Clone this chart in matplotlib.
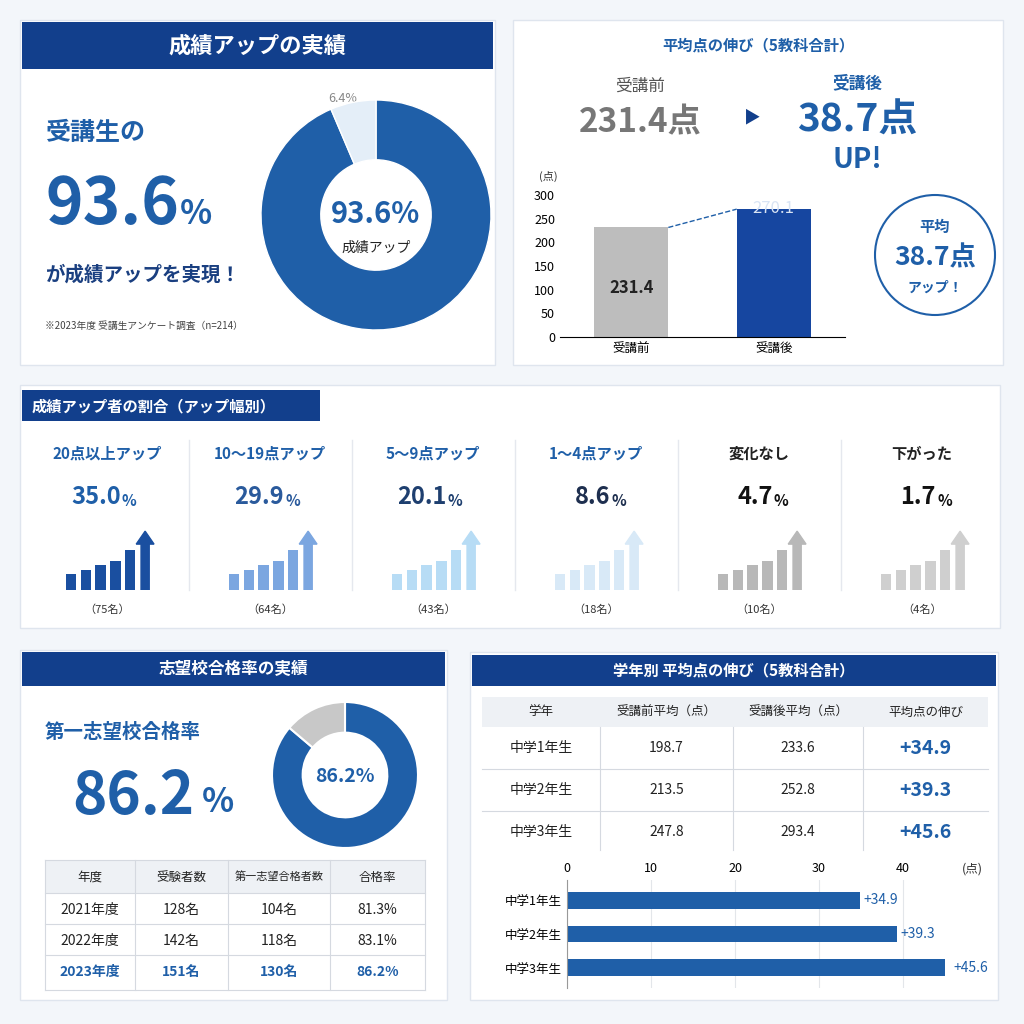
import matplotlib
matplotlib.use("Agg")
import matplotlib.pyplot as plt
from matplotlib.patches import Rectangle, Circle, FancyArrow
import numpy as np

plt.rcParams['font.family'] = ['Noto Sans CJK JP', 'DejaVu Sans']

# ---- data ----
up_share = [93.6, 6.4]
before_after_labels = ["受講前", "受講後"]
before_after_values = [231.4, 270.1]
avg_gain = 38.7
band_labels = ["20点以上アップ", "10〜19点アップ", "5〜9点アップ", "1〜4点アップ", "変化なし", "下がった"]
band_pct = [35.0, 29.9, 20.1, 8.6, 4.7, 1.7]
band_n = [75, 64, 43, 18, 10, 4]
icon_bars = [0.28, 0.34, 0.42, 0.5, 0.68]
pass_share = [86.2, 13.8]
years = ["2021年度", "2022年度", "2023年度"]
examinees = [128, 142, 151]
passers = [104, 118, 130]
pass_rate = [81.3, 83.1, 86.2]
grades = ["中学1年生", "中学2年生", "中学3年生"]
grade_before = [198.7, 213.5, 247.8]
grade_after = [233.6, 252.8, 293.4]
grade_gain = [34.9, 39.3, 45.6]

W = H = 1024
fig = plt.figure(figsize=(10.24, 10.24), dpi=100)
fig.patch.set_facecolor("#f3f6fa")
bg = fig.add_axes([0, 0, 1, 1]); bg.set_xlim(0, W); bg.set_ylim(H, 0); bg.axis("off")

BLUE = "#1f5fa8"; DARK = "#123f8c"; NAVY = "#1a3f80"

def ax_px(x0, y0, x1, y1):
    return fig.add_axes([x0 / W, 1 - y1 / H, (x1 - x0) / W, (y1 - y0) / H])

def panel(x0, y0, x1, y1):
    bg.add_patch(Rectangle((x0, y0), x1 - x0, y1 - y0, fc="white", ec="#dfe5ee", lw=1))

def t(x, y, s, size, color="#222", weight="normal", ha="center", va="center"):
    bg.text(x, y, s, fontsize=size, color=color, fontweight=weight, ha=ha, va=va)

# ---- panel 1 ----
panel(20, 20, 495, 365)
bg.add_patch(Rectangle((22, 22), 471, 47, fc=DARK, ec="none"))
t(257, 46, "成績アップの実績", 16, "white", "bold")
t(45, 133, "受講生の", 18, BLUE, "bold", ha="left")
t(45, 205, "93.6", 46, BLUE, "bold", ha="left")
t(180, 215, "%", 24, BLUE, "bold", ha="left")
t(45, 275, "が成績アップを実現！", 14, NAVY, "bold", ha="left")
t(45, 326, "※2023年度 受講生アンケート調査（n=214）", 7, "#444", ha="left")
a1 = ax_px(261, 100, 491, 330)
a1.pie(up_share, colors=[BLUE, "#e4eef8"], startangle=90, counterclock=False, radius=1,
       wedgeprops=dict(width=0.52, edgecolor="white", linewidth=1))
a1.set_xlim(-1, 1); a1.set_ylim(-1, 1); a1.set_aspect("equal")
t(376, 214, "93.6%", 21, BLUE, "bold")
t(376, 248, "成績アップ", 10, "#222")
t(352, 134, "6.4%", 9, "#555")
t(343, 98, "6.4%", 9, "#888")

# ---- panel 2 ----
panel(513, 20, 1003, 365)
t(758, 45, "平均点の伸び（5教科合計）", 11, BLUE, "bold")
t(640, 86, "受講前", 12, "#555")
t(640, 123, "231.4点", 24, "#777", "bold")
t(752, 118, "▶", 12, DARK)
t(857, 83, "受講後", 12, BLUE, "bold")
t(857, 120, "38.7点", 28, BLUE, "bold")
t(857, 160, "UP!", 20, BLUE, "bold")
a2 = ax_px(560, 195, 845, 337)
xs = np.array([0, 1])
a2.bar(xs, before_after_values, width=0.52, color=["#bdbdbd", "#1646a0"])
a2.plot([0.26, 0.74], [before_after_values[0], before_after_values[1]], ls="--", color=BLUE, lw=1)
a2.text(0, before_after_values[0] * 0.45, "231.4", ha="center", va="center", fontsize=12, fontweight="bold", color="#222")
a2.text(1, before_after_values[1] + 2, "270.1", ha="center", va="center", fontsize=12, color="#d9e4f4")
a2.set_ylim(0, 300); a2.set_yticks(range(0, 301, 50)); a2.set_xlim(-0.5, 1.5)
a2.set_xticks(xs); a2.set_xticklabels(before_after_labels, fontsize=9)
for s in ["top", "right", "left"]:
    a2.spines[s].set_visible(False)
a2.tick_params(axis="y", length=0, labelsize=9); a2.tick_params(axis="x", length=0)
t(548, 176, "(点)", 8, "#333")
bg.add_patch(Circle((935, 255), 60, fc="white", ec=BLUE, lw=1.5))
t(935, 227, "平均", 11, BLUE, "bold")
t(935, 258, "38.7点", 19, BLUE, "bold")
t(935, 288, "アップ！", 10, BLUE, "bold")

# ---- panel 3 ----
panel(20, 385, 1000, 628)
bg.add_patch(Rectangle((22, 390), 298, 31, fc=DARK, ec="none"))
t(32, 406, "成績アップ者の割合（アップ幅別）", 11, "white", "bold", ha="left")
title_cols = [BLUE, BLUE, BLUE, BLUE, "#222", "#222"]
pct_cols = [BLUE, "#2a5a9c", "#1e3f6f", "#1e2f4f", "#111", "#111"]
icon_cols = ["#1a4fa0", "#7ba6e0", "#b7dcf5", "#d8e9f7", "#b8b8b8", "#cfcfcf"]
for i in range(6):
    cx = 107 + i * 163
    if i > 0:
        bg.plot([cx - 81, cx - 81], [440, 590], color="#e5e8ee", lw=1)
    t(cx, 454, band_labels[i], 11, title_cols[i], "bold")
    t(cx + 14, 497, f"{band_pct[i]:.1f}", 17, pct_cols[i], "bold", ha="right")
    t(cx + 15, 501, "%", 11, pct_cols[i], "bold", ha="left")
    ai = ax_px(cx - 45, 530, cx + 50, 590)
    ai.bar(range(5), icon_bars, width=0.7, color=icon_cols[i])
    ai.add_patch(FancyArrow(5, 0, 0, 0.78, width=0.55, head_width=1.2, head_length=0.22,
                            length_includes_head=False, color=icon_cols[i]))
    ai.set_xlim(-0.6, 5.8); ai.set_ylim(0, 1.02); ai.axis("off")
    t(cx, 610, f"（{band_n[i]}名）", 8, "#333")

# ---- panel 4 ----
panel(20, 650, 447, 1000)
bg.add_patch(Rectangle((22, 652), 423, 34, fc=DARK, ec="none"))
t(233, 669, "志望校合格率の実績", 12, "white", "bold")
t(45, 732, "第一志望校合格率", 14, BLUE, "bold", ha="left")
t(72, 797, "86.2", 42, BLUE, "bold", ha="left")
t(202, 803, "%", 24, BLUE, "bold", ha="left")
a4 = ax_px(272, 702, 418, 848)
a4.pie(pass_share, colors=[BLUE, "#c8c8c8"], startangle=90, counterclock=False, radius=1,
       wedgeprops=dict(width=0.42, edgecolor="white", linewidth=1.5))
a4.set_xlim(-1, 1); a4.set_ylim(-1, 1); a4.set_aspect("equal")
t(345, 776, "86.2%", 14, BLUE, "bold")
cols4 = [45, 135, 228, 330, 425]
hdr4 = ["年度", "受験者数", "第一志望合格者数", "合格率"]
bg.add_patch(Rectangle((45, 860), 380, 33, fc="#eef1f5", ec="none"))
for j, h in enumerate(hdr4):
    t((cols4[j] + cols4[j + 1]) / 2, 877, h, 8 if j == 2 else 9, "#222")
for r in range(3):
    y = 910 + r * 31
    c = BLUE if r == 2 else "#222"
    w = "bold" if r == 2 else "normal"
    vals = [years[r], f"{examinees[r]}名", f"{passers[r]}名", f"{pass_rate[r]:.1f}%"]
    for j, v in enumerate(vals):
        t((cols4[j] + cols4[j + 1]) / 2, y, v, 10, c, w)
for y in [860, 893, 924, 955, 990]:
    bg.plot([45, 425], [y, y], color="#d5d9e0", lw=0.8)
for x in cols4:
    bg.plot([x, x], [860, 990], color="#d5d9e0", lw=0.8)

# ---- panel 5 ----
panel(470, 652, 998, 1000)
bg.add_patch(Rectangle((472, 655), 524, 31, fc=DARK, ec="none"))
t(734, 670, "学年別 平均点の伸び（5教科合計）", 11, "white", "bold")
cols5 = [482, 600, 733, 863, 988]
hdr5 = ["学年", "受講前平均（点）", "受講後平均（点）", "平均点の伸び"]
bg.add_patch(Rectangle((482, 697), 506, 30, fc="#eef1f5", ec="none"))
for j, h in enumerate(hdr5):
    t((cols5[j] + cols5[j + 1]) / 2, 712, h, 9, "#222")
for r in range(3):
    y = 748 + r * 42
    vals = [grades[r], f"{grade_before[r]:.1f}", f"{grade_after[r]:.1f}"]
    for j, v in enumerate(vals):
        t((cols5[j] + cols5[j + 1]) / 2, y, v, 10, "#222")
    t((cols5[3] + cols5[4]) / 2, y, f"+{grade_gain[r]:.1f}", 14, BLUE, "bold")
for y in [769, 811]:
    bg.plot([482, 988], [y, y], color="#d5d9e0", lw=0.8)
for x in cols5[1:-1]:
    bg.plot([x, x], [727, 850], color="#d5d9e0", lw=0.8)
a5 = ax_px(567, 880, 945, 988)
yy = np.arange(3)
a5.barh(yy, grade_gain, height=0.5, color="#1f5fa8")
for k, g in enumerate(grade_gain):
    a5.text(g + 0.4, k, f"+{g:.1f}", va="center", ha="left", fontsize=10, color=BLUE)
a5.set_xlim(0, 45); a5.set_ylim(2.6, -0.6)
a5.set_xticks(range(0, 41, 10)); a5.xaxis.tick_top()
a5.set_yticks(yy); a5.set_yticklabels(grades, fontsize=9)
a5.tick_params(length=0, labelsize=9)
for s in ["top", "right", "bottom"]:
    a5.spines[s].set_visible(False)
a5.spines["left"].set_color("#999")
a5.grid(axis="x", color="#e3e6ea", lw=0.8); a5.set_axisbelow(True)
t(972, 869, "(点)", 9, "#333")

fig.savefig("out.png", dpi=100, facecolor=fig.get_facecolor())
